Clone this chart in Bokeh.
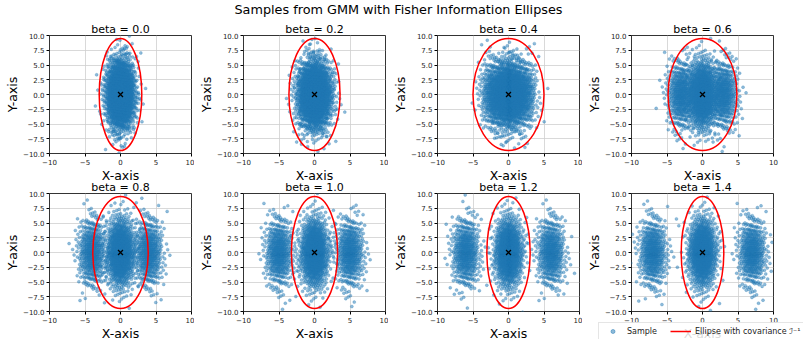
import numpy as np
from statistics import NormalDist
from bokeh.plotting import figure
from bokeh.layouts import column, row
from bokeh.models import Div, FixedTicker, Legend, LegendItem, Range1d
from bokeh.embed import file_html
from bokeh.resources import INLINE

# ---------------- data ----------------
betas = [0.0, 0.2, 0.4, 0.6, 0.8, 1.0, 1.2, 1.4]
cluster_offsets = [0.0, 1.0, 2.0, 3.0, 4.0, 5.0, 6.0, 7.0]   # side clusters at -o, 0, +o
cluster_weights = [0.25, 0.5, 0.25]
cluster_std_x = 1.0
cluster_std_y = 3.0
n_samples = 2000
ellipse_center_x = [0.0, 0.0, 0.0, 0.0, 0.0, 0.0, 0.0, 0.0]
ellipse_center_y = [0.0, 0.0, 0.0, 0.0, 0.0, 0.0, 0.0, 0.0]
ellipse_half_width = [3.0, 3.6, 5.0, 4.85, 3.9, 3.25, 3.05, 3.0]
ellipse_half_height = [9.5, 9.5, 9.5, 9.5, 9.5, 9.5, 9.5, 9.5]
x_ticks = [-10, -5, 0, 5, 10]
x_tick_labels = ["\u221210", "\u22125", "0", "5", "10"]
y_ticks = [-10, -7.5, -5, -2.5, 0, 2.5, 5, 7.5, 10]
y_tick_labels = ["\u221210.0", "\u22127.5", "\u22125.0", "\u22122.5", "0.0", "2.5", "5.0", "7.5", "10.0"]
main_title = "Samples from GMM with Fisher Information Ellipses"
legend_labels = ["Sample", "Ellipse with covariance \u2110\u207b\u00b9"]

# deterministic (non-random) quasi-uniform lattice mapped to normal quantiles
_nd = NormalDist()
_g = 1.32471795724474602596
_a1, _a2 = 1.0 / _g, 1.0 / _g ** 2


def lattice_normal(n, shift1, shift2):
    k = np.arange(1, n + 1)
    u = (shift1 + _a1 * k) % 1.0
    v = (shift2 + _a2 * k) % 1.0
    u = np.clip(u, 2e-4, 1 - 2e-4)
    v = np.clip(v, 2e-4, 1 - 2e-4)
    zu = np.array([_nd.inv_cdf(t) for t in u])
    zv = np.array([_nd.inv_cdf(t) for t in v])
    return zu, zv


FONT = "DejaVu Sans"
BLUE = "#1f77b4"
F_W, F_H = 142, 118
DIV_H = 20
T_TOP = 15      # title band above each frame
B1 = 34         # bottom band of first row
B2 = 32         # bottom band of second row
TITLE_SIZE = "11px"

figs = []
for i, b in enumerate(betas):
    r, c = divmod(i, 4)
    p = figure(
        frame_width=F_W, frame_height=F_H,
        x_range=(-10, 10), y_range=(-10, 10),
        output_backend="svg", toolbar_location=None,
        min_border_left=49, min_border_right=(30 if c == 3 else 3),
        min_border_top=T_TOP, min_border_bottom=(B1 if r == 0 else B2),
        title=f"beta = {b:.1f}",
    )
    p.title.align = "center"
    p.title.text_font = FONT
    p.title.text_font_size = TITLE_SIZE
    p.title.text_font_style = "normal"
    p.title.text_color = "black"
    p.title.standoff = 0

    xs, ys = [], []
    offs = [-cluster_offsets[i], 0.0, cluster_offsets[i]]
    for j, (m, w) in enumerate(zip(offs, cluster_weights)):
        n = int(round(n_samples * w))
        zu, zv = lattice_normal(n, 0.5 + 0.37 * i + 0.13 * j, 0.21 * i + 0.29 * j)
        xs.append(m + cluster_std_x * zu)
        ys.append(cluster_std_y * zv)
    x = np.concatenate(xs)
    y = np.concatenate(ys)

    p.scatter(x, y, size=3.0, fill_color=BLUE, line_color=BLUE,
              fill_alpha=0.5, line_alpha=0.5, line_width=0.5)
    p.ellipse(x=[ellipse_center_x[i]], y=[ellipse_center_y[i]],
              width=[2 * ellipse_half_width[i]], height=[2 * ellipse_half_height[i]],
              fill_alpha=0, line_color="red", line_width=1.5)
    p.scatter([ellipse_center_x[i]], [ellipse_center_y[i]], marker="x", size=7,
              line_color="black", line_width=1.3)

    p.xaxis.ticker = FixedTicker(ticks=x_ticks)
    p.yaxis.ticker = FixedTicker(ticks=y_ticks)
    p.xgrid.ticker = FixedTicker(ticks=x_ticks)
    p.ygrid.ticker = FixedTicker(ticks=y_ticks)
    p.xaxis.major_label_overrides = dict(zip(x_ticks, x_tick_labels))
    p.yaxis.major_label_overrides = dict(zip(y_ticks, y_tick_labels))
    p.xaxis.axis_label = "X-axis"
    p.yaxis.axis_label = "Y-axis"
    for ax in (p.xaxis[0], p.yaxis[0]):
        ax.axis_label_text_font = FONT
        ax.axis_label_text_font_size = "12.5px"
        ax.axis_label_text_font_style = "normal"
        ax.axis_label_text_color = "black"
        ax.axis_label_standoff = 0
        ax.major_label_text_font = FONT
        ax.major_label_text_font_size = "7px"
        ax.major_label_text_color = "#222222"
        ax.major_label_standoff = 2
        ax.major_tick_in = 0
        ax.major_tick_out = 3
        ax.major_tick_line_color = "black"
        ax.minor_tick_line_color = None
        ax.axis_line_color = None
    p.grid.grid_line_color = "#cfcfcf"
    p.grid.grid_line_width = 0.8
    p.outline_line_color = "black"
    p.outline_line_width = 0.8
    p.outline_line_alpha = 1.0
    p.background_fill_color = "white"
    p.border_fill_color = None
    figs.append(p)

# legend as its own small figure, overlapping the bottom band (as in the reference);
# its proxy glyphs sit outside the visible range, only their legend swatches show
lf = figure(width=205, height=17, output_backend="svg", toolbar_location=None,
            x_axis_type=None, y_axis_type=None, min_border=0,
            x_range=Range1d(100, 101), y_range=Range1d(100, 101),
            outline_line_color=None, background_fill_color=None,
            border_fill_color=None)
lf.grid.visible = False
s_proxy = lf.scatter(ellipse_center_x[:1], ellipse_center_y[:1], size=3.5,
                     fill_color=BLUE, line_color=BLUE, fill_alpha=0.5, line_alpha=0.5)
l_proxy = lf.line(ellipse_center_x[:2], ellipse_center_y[:2], line_color="red", line_width=1.5)
legend = Legend(
    items=[LegendItem(label=legend_labels[0], renderers=[s_proxy]),
           LegendItem(label=legend_labels[1], renderers=[l_proxy])],
    orientation="horizontal", location="top_left",
    label_text_font=FONT, label_text_font_size="8px", label_text_color="#222222",
    label_height=10, label_standoff=4, glyph_width=21, glyph_height=10,
    spacing=13, padding=3, margin=0,
    border_line_color="#cccccc", border_line_width=1,
    background_fill_color="white", background_fill_alpha=0.85,
)
lf.add_layout(legend, "center")

title_div = Div(
    text=main_title, width=803, height=DIV_H, margin=(0, 0, 0, 0),
    styles={"text-align": "center", "font-family": FONT, "font-size": "12.8px",
            "line-height": "20px", "color": "black", "width": "797px"},
)

row1 = row(*figs[:4], spacing=0)
row2 = row(*figs[4:], spacing=0)
row1_bottom = DIV_H + T_TOP + F_H + B1
row2_top = 193 - T_TOP
row2.margin = (row2_top - row1_bottom, 0, 0, 0)
row2_bottom = row2_top + T_TOP + F_H + B2
lf.margin = (322 - row2_bottom, 0, 0, 598)

layout = column(title_div, row1, row2, lf, spacing=0)
open("out.html", "w").write(file_html(layout, INLINE))
